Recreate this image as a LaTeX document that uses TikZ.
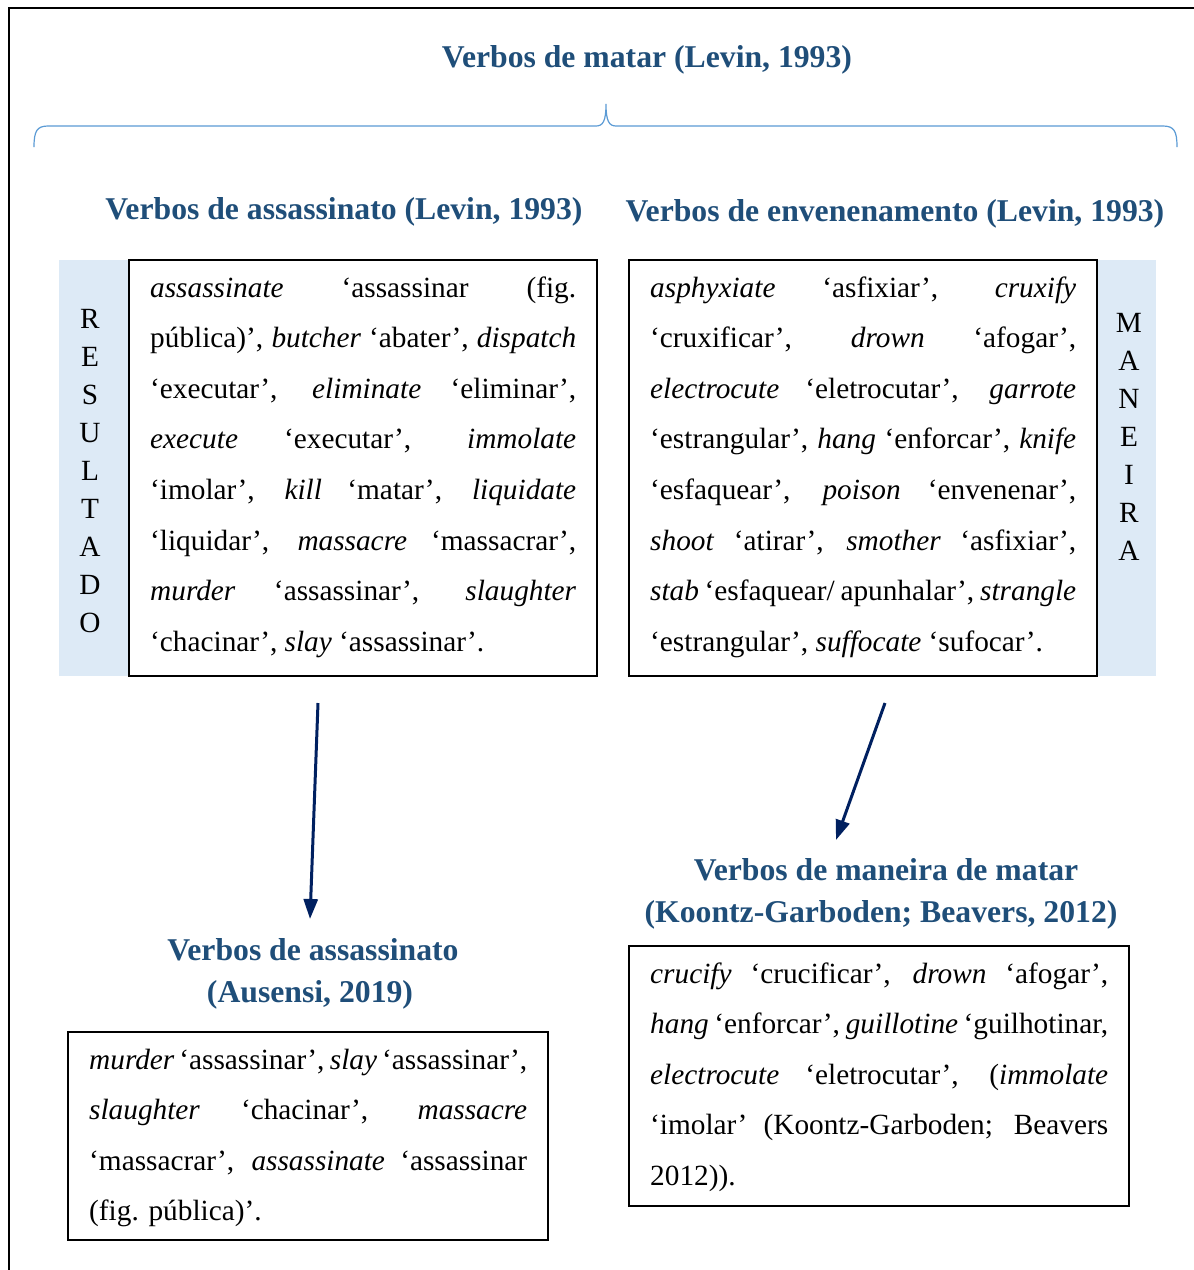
\documentclass[tikz,border=0pt]{standalone}
\usepackage{fontspec}
\setmainfont{Liberation Serif}
\usetikzlibrary{arrows.meta}
\definecolor{titleblue}{RGB}{31,78,121}
\definecolor{bracecol}{RGB}{91,155,213}
\definecolor{panelblue}{RGB}{221,234,246}
\definecolor{arrowcol}{RGB}{0,32,96}
\newcommand\jl[1]{\hbox to\hsize{#1}}
\newcommand\lastl[1]{\hbox to\hsize{#1\hfil}}
\newcommand\cl[1]{\hbox to\hsize{\hfil#1\hfil}}
\tikzset{
  ttl/.style={anchor=base, inner sep=0pt, text=titleblue, font=\fontsize{31.7pt}{42pt}\selectfont\bfseries},
  body/.style={anchor=base west, inner sep=0pt, font=\fontsize{29.3pt}{50.6pt}\selectfont},
  letters/.style={anchor=base, inner sep=0pt, font=\fontsize{29.3pt}{38pt}\selectfont},
  panel/.style={fill=panelblue, draw=none, inner sep=0pt},
  txtbox/.style={draw=black, line width=1.8pt, fill=none, inner sep=0pt},
  arr/.style={draw=arrowcol, line width=3pt, -{Triangle[length=20pt,width=14pt]}},
}
\begin{document}
\begin{tikzpicture}[x=1pt,y=-1pt]
\useasboundingbox (0,0) rectangle (1194,1270);
\fill[white] (0,0) rectangle (1194,1270);
% outer frame (clipped at right and bottom)
\draw[line width=2.5pt] (9,1270) -- (9,8) -- (1194,8);

% main title
\node[ttl] (t0) at (647,67) {Verbos de matar (Levin, 1993)};
% brace
\draw[bracecol, line width=1.2pt]
  (34,147) .. controls (34,131) and (37,126) .. (48,126) -- (596,126)
  .. controls (603,126) and (606,121) .. (606,104)
  .. controls (606,121) and (609,126) .. (616,126) -- (1163,126)
  .. controls (1174,126) and (1177,131) .. (1177,147);

% subtitles
\node[ttl] (tL) at (344,219) {Verbos de assassinato (Levin, 1993)};
\node[ttl] (tR) at (895,221) {Verbos de envenenamento (Levin, 1993)};

% panels
\node[panel, minimum width=70pt, minimum height=416pt] (panL) at (94,468) {};
\node[panel, minimum width=59pt, minimum height=416pt] (panR) at (1126.5,468) {};

% boxes
\node[txtbox, minimum width=468pt, minimum height=416pt] (boxL) at (363,468) {};
\node[txtbox, minimum width=468pt, minimum height=416pt] (boxR) at (863,468) {};
\node[txtbox, minimum width=480pt, minimum height=208pt] (boxBL) at (308,1136) {};
\node[txtbox, minimum width=500pt, minimum height=260pt] (boxBR) at (879,1076) {};

% vertical labels
\node[letters] (res) at (90,328) {\vtop{\hsize=40pt \cl{R}\cl{E}\cl{S}\cl{U}\cl{L}\cl{T}\cl{A}\cl{D}\cl{O}}};
\node[letters] (man) at (1129,332) {\vtop{\hsize=40pt \cl{M}\cl{A}\cl{N}\cl{E}\cl{I}\cl{R}\cl{A}}};

% left box text
\node[body] (txL) at (150,297) {\vtop{\hsize=426pt
\jl{\textit{assassinate} ‘assassinar (fig.}
\jl{pública)’, \textit{butcher} ‘abater’, \textit{dispatch}}
\jl{‘executar’, \textit{eliminate} ‘eliminar’,}
\jl{\textit{execute} ‘executar’, \textit{immolate}}
\jl{‘imolar’, \textit{kill} ‘matar’, \textit{liquidate}}
\jl{‘liquidar’, \textit{massacre} ‘massacrar’,}
\jl{\textit{murder} ‘assassinar’, \textit{slaughter}}
\lastl{‘chacinar’, \textit{slay} ‘assassinar’.}}};

% right box text
\node[body] (txR) at (650,297) {\vtop{\hsize=426pt
\jl{\textit{asphyxiate} ‘asfixiar’, \textit{cruxify}}
\jl{‘cruxificar’, \textit{drown} ‘afogar’,}
\jl{\textit{electrocute} ‘eletrocutar’, \textit{garrote}}
\jl{‘estrangular’, \textit{hang} ‘enforcar’, \textit{knife}}
\jl{‘esfaquear’, \textit{poison} ‘envenenar’,}
\jl{\textit{shoot} ‘atirar’, \textit{smother} ‘asfixiar’,}
\jl{\textit{stab} ‘esfaquear/ apunhalar’, \textit{strangle}}
\lastl{‘estrangular’, \textit{suffocate} ‘sufocar’.}}};

% lower titles
\node[ttl] (tBL1) at (313,960) {Verbos de assassinato};
\node[ttl] (tBL2) at (310,1002) {(Ausensi, 2019)};
\node[ttl] (tBR1) at (886,880) {Verbos de maneira de matar};
\node[ttl] (tBR2) at (881,922) {(Koontz-Garboden; Beavers, 2012)};

% bottom left text
\node[body] (txBL) at (89,1069) {\vtop{\hsize=438pt
\jl{\textit{murder} ‘assassinar’, \textit{slay} ‘assassinar’,}
\jl{\textit{slaughter} ‘chacinar’, \textit{massacre}}
\jl{‘massacrar’, \textit{assassinate} ‘assassinar}
\lastl{(fig. pública)’.}}};

% bottom right text
\node[body] (txBR) at (650,983) {\vtop{\hsize=458pt
\jl{\textit{crucify} ‘crucificar’, \textit{drown} ‘afogar’,}
\jl{\textit{hang} ‘enforcar’, \textit{guillotine} ‘guilhotinar,}
\jl{\textit{electrocute} ‘eletrocutar’, (\textit{immolate}}
\jl{‘imolar’ (Koontz-Garboden; Beavers}
\lastl{2012)).}}};

% arrows
\coordinate (a1s) at (318,703);
\coordinate (a1e) at (310,919);
\coordinate (a2s) at (885,703);
\coordinate (a2e) at (836,840);
\draw[arr] (a1s) -- (a1e);
\draw[arr] (a2s) -- (a2e);
\end{tikzpicture}
\end{document}
